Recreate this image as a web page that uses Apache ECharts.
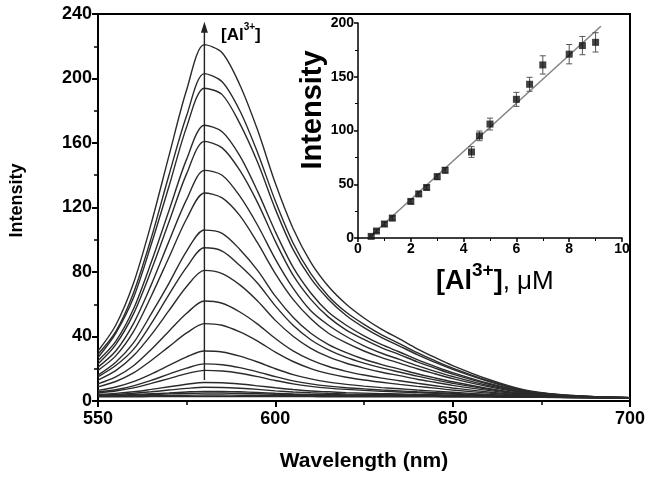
<!DOCTYPE html>
<html>
<head>
<meta charset="utf-8">
<script src="https://cdn.jsdelivr.net/npm/echarts@6/dist/echarts.min.js"></script>
<style>html,body{margin:0;padding:0;background:#fff}#c{width:651px;height:479px}</style>
</head>
<body>
<div id="c"></div>
<script>
// ---- main plot data: wavelength grid (nm) and emission spectra (intensity) ----
const wavelengths = [550,555,560,565,570,575,580,585,590,595,600,605,610,615,620,625,630,635,640,645,650,660,670,680,690,700];
const s01 = [31,47,73,110,152,193,221,216,196,168,135,107,86,71,60,51.5,44.4,38.5,32.4,27,22,13.5,7,4,2.7,2];
const s02 = [29,43,67,101,140,177,203,198,180,154,124,98,79,65,55,47.5,41,35.6,30,25,20.4,12.6,6.6,3.9,2.7,2];
const s03 = [27,42,64,97,133,170,194,190,172,148,119,94,76,63,53,45.5,39.3,34.1,28.8,24,19.6,12.2,6.4,3.8,2.6,2];
const s04 = [25,37,57,86,118,150,171,167,152,130,105,83,67,55,47,40.4,34.9,30.4,25.7,21.5,17.6,11,6,3.6,2.6,2];
const s05 = [23,35,54,81,111,141,161,157,143,123,99,78,63,52,44,38.2,33,28.8,24.3,20.4,16.7,10.5,5.8,3.5,2.5,2];
const s06 = [21,31,48,72,99,125,143,140,127,109,88,70,56,47,40,34.2,29.6,25.8,21.9,18.4,15.2,9.6,5.4,3.4,2.5,2];
const s07 = [19,28,43,65,89,113,129,126,115,98,79,63,51,42,36,31,26.9,23.5,20,16.9,13.9,8.9,5.1,3.3,2.5,2];
const s08 = [16,24,36,54,73,93,106,104,94,81,65,52,42,35,30,25.9,22.6,19.8,16.9,14.3,11.9,7.8,4.6,3.1,2.4,2];
const s09 = [15,22,32,48,66,83,95,93,84,73,59,47,38,31.7,27,23.5,20.5,18,15.4,13.1,11,7.3,4.4,3,2.4,2];
const s10 = [13,18.8,28,41,56,71,81,79,72,62,50,40.2,32.7,27.3,23.4,20.4,17.8,15.7,13.5,11.6,9.7,6.6,4.1,2.9,2.3,2];
const s11 = [10.6,14.9,21.9,32,43.3,54.4,62,60.6,55.2,47.7,38.8,31.1,25.5,21.4,18.4,16.1,14.2,12.6,11,9.5,8.1,5.6,3.7,2.8,2.3,2];
const s12 = [8.8,12.1,17.4,25.1,33.7,42.2,48,47,42.8,37.1,30.3,24.5,20.1,17,14.7,13,11.6,10.3,9.1,8,6.8,4.9,3.4,2.7,2.2,2];
const s13 = [6.6,8.7,12,16.7,22.1,27.4,31,30.4,27.8,24.2,20,16.4,13.7,11.7,10.3,9.2,8.3,7.6,6.8,6.1,5.4,4.1,3.1,2.5,2.2,2];
const s14 = [5.6,7,9.4,12.8,16.7,20.4,23,22.5,20.7,18.1,15.1,12.5,10.6,9.2,8.2,7.5,6.8,6.3,5.7,5.2,4.65,3.7,2.9,2.5,2.1,2];
const s15 = [5,6.2,8.1,10.9,13.9,17,19,18.6,17.2,15.1,12.7,10.6,9.1,8,7.2,6.6,6,5.6,5.2,4.8,4.3,3.5,2.8,2.4,2.1,2];
const s16 = [4.1,4.7,5.7,7.2,8.8,10.4,11.5,11.3,10.5,9.4,8.2,7.1,6.2,5.7,5.2,4.9,4.6,4.4,4.15,3.94,3.64,3.1,2.7,2.4,2.1,2];
const s17 = [3.7,4.1,4.8,5.7,6.8,7.8,8.5,8.4,7.9,7.2,6.3,5.6,5.1,4.7,4.4,4.2,4.05,3.9,3.74,3.6,3.4,3,2.6,2.3,2.1,2];
const s18 = [3.4,3.6,4,4.5,5,5.6,6,5.9,5.7,5.3,4.8,4.4,4.1,3.9,3.8,3.7,3.6,3.5,3.4,3.3,3.2,2.85,2.55,2.3,2.1,2];
const s19 = [3.3,3.4,3.6,4,4.4,4.7,5,5,4.8,4.5,4.2,4,3.8,3.6,3.5,3.45,3.4,3.3,3.25,3.2,3.1,2.8,2.5,2.3,2.1,2];
const s20 = [3.1,3.1,3.2,3.3,3.5,3.6,3.7,3.7,3.6,3.5,3.4,3.35,3.3,3.25,3.2,3.15,3.1,3.1,3.1,3.05,3,2.7,2.5,2.3,2.1,2];
const s21 = [2.6,2.6,2.6,2.7,2.7,2.8,2.8,2.8,2.8,2.8,2.7,2.7,2.7,2.65,2.6,2.6,2.6,2.6,2.6,2.55,2.5,2.4,2.3,2.2,2.1,2];
const spectra = [s01,s02,s03,s04,s05,s06,s07,s08,s09,s10,s11,s12,s13,s14,s15,s16,s17,s18,s19,s20,s21];

// arrow annotation (nm, intensity range)
const arrowX = 580;
const arrowRange = [13, 233];

// ---- inset data: [Al3+] (uM), intensity, error ----
const concX   = [0.5,0.7,1.0,1.3,2.0,2.3,2.6,3.0,3.3,4.3,4.6,5.0,6.0,6.5,7.0,8.0,8.5,9.0];
const concY   = [1.5,6.5,13,18.5,34,41,47,57,63,80,95,106,129,143,161,171,179,182];
const concErr = [1.5,1.5,2,2,2,2,2,2.5,2.5,5,4.5,5.5,6.5,6.5,8.5,9,8.5,9];
const fitX = [0.4, 9.2];
const fitY = [0, 197];

const FONT = 'Arial, "Liberation Sans", "Helvetica", sans-serif';
const chart = echarts.init(document.getElementById('c'), null, {renderer: 'canvas'});

const spectraSeries = spectra.map((arr) => ({
  type: 'line',
  xAxisIndex: 0, yAxisIndex: 0,
  data: wavelengths.map((w, j) => [w, arr[j]]),
  showSymbol: false,
  smooth: 0.3,
  silent: true,
  lineStyle: {color: '#2b2b2b', width: 1.4},
  z: 3
}));

// arrow drawn as its own series between two annotation points
const arrowSeries = {
  type: 'line', xAxisIndex: 0, yAxisIndex: 0, silent: true, z: 4,
  data: [[arrowX, arrowRange[0]], [arrowX, arrowRange[1]]],
  showSymbol: false, symbol: 'none',
  lineStyle: {color: '#222', width: 1.4},
  markPoint: {
    silent: true,
    symbol: 'triangle', symbolSize: [7, 11],
    itemStyle: {color: '#222'},
    label: {show: false},
    data: [{coord: [arrowX, arrowRange[1]], symbolOffset: [0, 2]}]
  }
};

const errData = concX.map((x, i) => [x, concY[i], concErr[i]]);

const option = {
  animation: false,
  backgroundColor: '#fff',
  textStyle: {fontFamily: FONT},
  grid: [
    {left: 98, right: 21, top: 14, bottom: 78, show: true, borderColor: '#000', borderWidth: 2, backgroundColor: 'transparent'},
    {left: 358, right: 29, top: 23, bottom: 241}
  ],
  xAxis: [
    {
      gridIndex: 0, type: 'value', min: 550, max: 700, interval: 50,
      axisLine: {show: true, onZero: false, lineStyle: {color: '#000', width: 2}},
      axisTick: {show: true, inside: false, length: 6, lineStyle: {color: '#000', width: 2}},
      minorTick: {show: true, splitNumber: 2, length: 4, lineStyle: {color: '#000', width: 1.5}},
      splitLine: {show: false},
      axisLabel: {color: '#000', fontSize: 18, fontWeight: 'bold', fontFamily: FONT, margin: 9, showMinLabel: true, showMaxLabel: true},
      name: 'Wavelength (nm)', nameLocation: 'middle', nameGap: 50,
      nameTextStyle: {color: '#000', fontSize: 21, fontWeight: 'bold', fontFamily: FONT}
    },
    {
      gridIndex: 1, type: 'value', min: 0, max: 10, interval: 2,
      axisLine: {show: true, onZero: false, lineStyle: {color: '#000', width: 1.5}},
      axisTick: {show: true, inside: false, length: 4, lineStyle: {color: '#000', width: 1.5}},
      minorTick: {show: true, splitNumber: 2, length: 3, lineStyle: {color: '#000', width: 1}},
      splitLine: {show: false},
      axisLabel: {color: '#000', fontSize: 14, fontWeight: 'bold', fontFamily: FONT, margin: 4, showMinLabel: true, showMaxLabel: true}
    }
  ],
  yAxis: [
    {
      gridIndex: 0, type: 'value', min: 0, max: 240, interval: 40,
      axisLine: {show: true, onZero: false, lineStyle: {color: '#000', width: 2}},
      axisTick: {show: true, inside: false, length: 6, lineStyle: {color: '#000', width: 2}},
      minorTick: {show: true, splitNumber: 2, length: 4, lineStyle: {color: '#000', width: 1.5}},
      splitLine: {show: false},
      axisLabel: {color: '#000', fontSize: 18, fontWeight: 'bold', fontFamily: FONT, margin: 6, showMinLabel: true, showMaxLabel: true},
      name: 'Intensity', nameLocation: 'middle', nameGap: 72,
      nameTextStyle: {color: '#000', fontSize: 18, fontWeight: 'bold', fontFamily: FONT, padding: [0, 0, 0, 14]}
    },
    {
      gridIndex: 1, type: 'value', min: 0, max: 200, interval: 50,
      axisLine: {show: true, onZero: false, lineStyle: {color: '#000', width: 1.5}},
      axisTick: {show: true, inside: false, length: 4, lineStyle: {color: '#000', width: 1.5}},
      minorTick: {show: true, splitNumber: 2, length: 3, lineStyle: {color: '#000', width: 1}},
      splitLine: {show: false},
      axisLabel: {color: '#000', fontSize: 14, fontWeight: 'bold', fontFamily: FONT, margin: 4, showMinLabel: true, showMaxLabel: true}
    }
  ],
  series: spectraSeries.concat([
    arrowSeries,
    {
      type: 'line', xAxisIndex: 1, yAxisIndex: 1,
      data: fitX.map((x, i) => [x, fitY[i]]),
      showSymbol: false, silent: true,
      lineStyle: {color: '#858585', width: 1.6}, z: 4
    },
    {
      type: 'custom', xAxisIndex: 1, yAxisIndex: 1, silent: true, z: 5,
      data: errData,
      renderItem: function (params, api) {
        const x = api.value(0), y = api.value(1), e = api.value(2);
        const hi = api.coord([x, y + e]);
        const lo = api.coord([x, y - e]);
        const hw = 3;
        const st = {stroke: '#555', lineWidth: 1};
        return {type: 'group', children: [
          {type: 'line', shape: {x1: hi[0], y1: hi[1], x2: lo[0], y2: lo[1]}, style: st},
          {type: 'line', shape: {x1: hi[0]-hw, y1: hi[1], x2: hi[0]+hw, y2: hi[1]}, style: st},
          {type: 'line', shape: {x1: lo[0]-hw, y1: lo[1], x2: lo[0]+hw, y2: lo[1]}, style: st}
        ]};
      }
    },
    {
      type: 'scatter', xAxisIndex: 1, yAxisIndex: 1, silent: true, z: 6,
      data: concX.map((x, i) => [x, concY[i]]),
      symbol: 'rect', symbolSize: 7,
      itemStyle: {color: '#111'}
    }
  ]),
  graphic: [
    {
      type: 'text', left: 221, top: 22, z: 20,
      style: {
        text: '{a|[Al}{s|3+}{a|]}',
        fill: '#000',
        rich: {
          a: {fontSize: 17, fontWeight: 'bold', fontFamily: FONT, lineHeight: 22, verticalAlign: 'bottom'},
          s: {fontSize: 10, fontWeight: 'bold', fontFamily: FONT, lineHeight: 9, verticalAlign: 'top'}
        }
      }
    },
    {
      type: 'text', x: 313, y: 110, rotation: Math.PI / 2, z: 20,
      style: {
        text: 'Intensity', fill: '#000',
        font: 'bold 29px ' + FONT,
        align: 'center', verticalAlign: 'middle'
      }
    },
    {
      type: 'text', left: 436, top: 261, z: 20,
      style: {
        text: '{b|[Al}{sb|3+}{b|]}{r|, μM}',
        fill: '#000',
        rich: {
          b: {fontSize: 27, fontWeight: 'bold', fontFamily: FONT, lineHeight: 34, verticalAlign: 'bottom'},
          sb: {fontSize: 19, fontWeight: 'bold', fontFamily: FONT, lineHeight: 14, verticalAlign: 'top'},
          r: {fontSize: 26, fontWeight: 'normal', fontFamily: FONT, lineHeight: 34, verticalAlign: 'bottom'}
        }
      }
    }
  ]
};
chart.setOption(option);
</script>
</body>
</html>
